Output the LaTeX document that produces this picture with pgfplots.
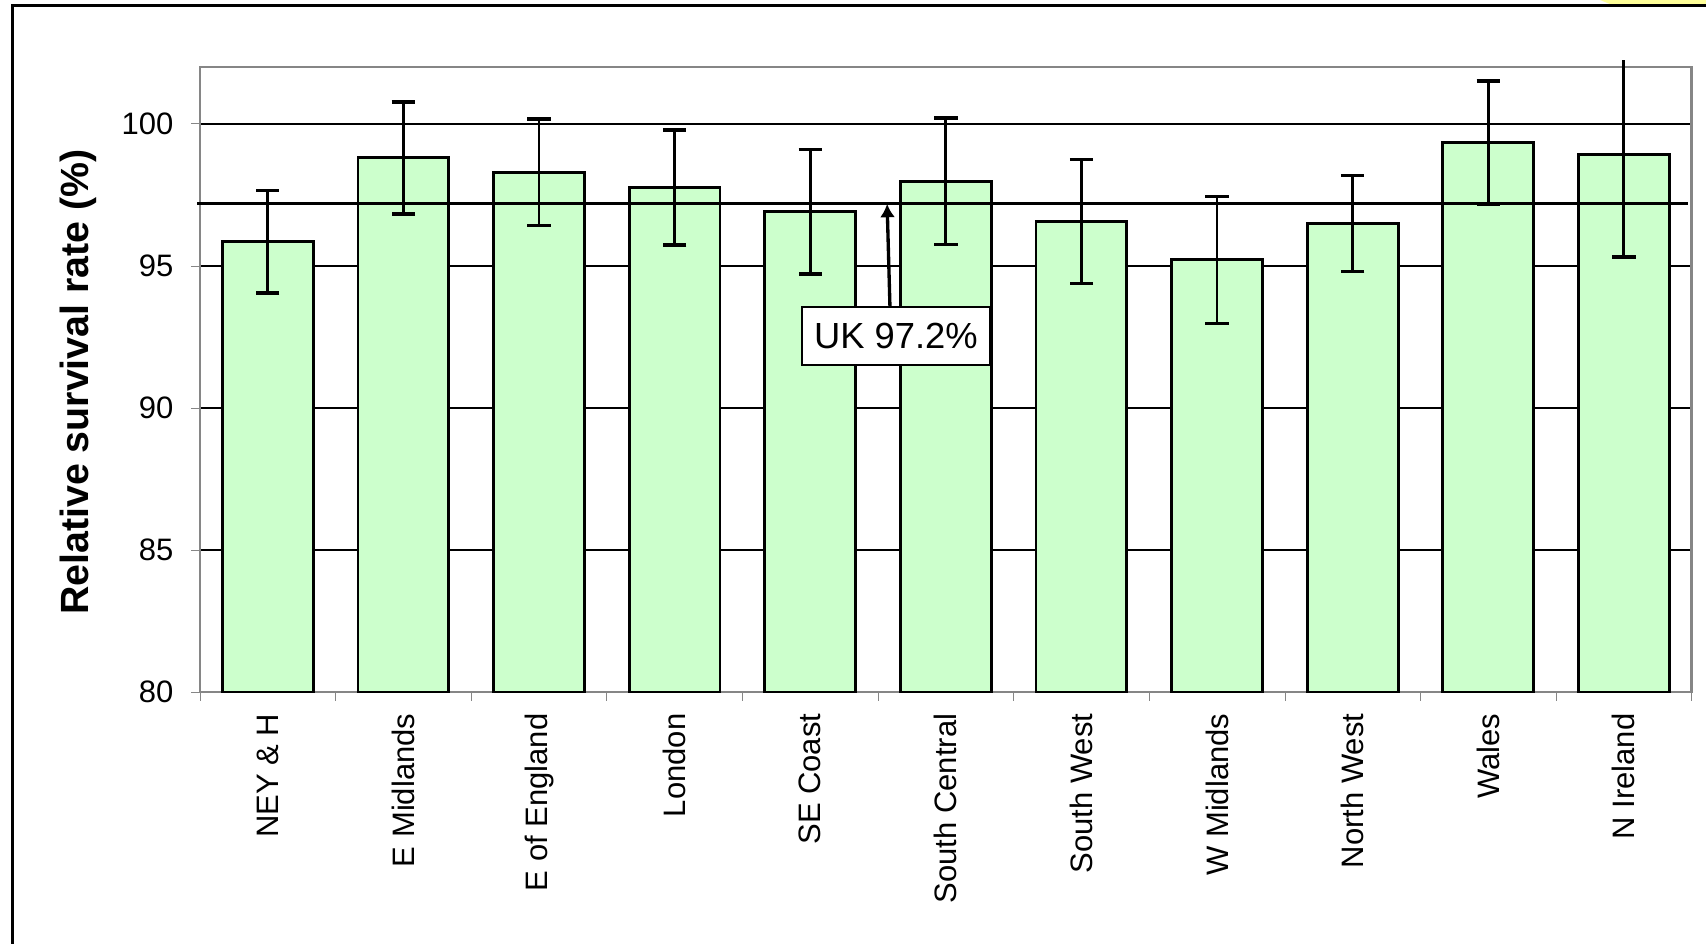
\documentclass[border=0pt]{standalone}
\usepackage{fontspec}
\setmainfont{Liberation Sans}
\usepackage{pgfplots}
\usepackage{pgfplotstable}
\pgfplotsset{compat=1.18}
\usetikzlibrary{arrows.meta}
\definecolor{barfill}{RGB}{204,255,204}
\definecolor{axgray}{RGB}{134,134,134}
\definecolor{paleyellow}{RGB}{255,255,153}

\pgfplotstableread{
x y e
0 95.85 1.81
1 98.80 1.97
2 98.30 1.87
3 97.76 2.02
4 96.90 2.19
5 97.98 2.23
6 96.56 2.18
7 95.21 2.24
8 96.49 1.69
9 99.33 2.18
10 98.92 3.61
}\datatable

\begin{document}
\begin{tikzpicture}
\useasboundingbox (0,0) rectangle (511.8pt,283.2pt);
\fill[paleyellow] (480pt,283.2pt) -- (511.8pt,283.2pt) -- (511.8pt,281.6pt) -- (483.9pt,281.6pt) -- cycle;
\draw[line width=0.9pt, line cap=rect] (3.6pt,-2pt) -- (3.6pt,281.4pt) -- (514pt,281.4pt);
\begin{axis}[
  at={(60pt,75.6pt)}, anchor=south west,
  scale only axis, width=447.5pt, height=187.5pt,
  xmin=-0.5, xmax=10.5, ymin=80, ymax=102,
  clip=false,
  /pgf/number format/assume math mode=true,
  ytick={80,85,90,95,100},
  xtick={0,...,10},
  xticklabels={NEY \& H, E Midlands, E of England, London, SE Coast, South Central, South West, W Midlands, North West, Wales, N Ireland},
  minor xtick={-0.5,0.5,...,10.5},
  xtick pos=lower, ytick pos=lower,
  tick align=outside,
  major tick length=2.7pt, minor tick length=2.6pt,
  major x tick style={draw=none},
  tick style={axgray},
  axis line style={axgray, line width=0.75pt},
  ymajorgrids,
  y grid style={black, line width=0.7pt},
  ticklabel style={font=\fontsize{9.3}{11}\selectfont, inner sep=0pt},
  yticklabel style={anchor=east, xshift=-5.1pt},
  xticklabel style={yshift=-3.6pt, rotate=90, anchor=east},
  ylabel={Relative survival rate (\%)},
  ylabel style={at={(axis description cs:-0.0818,0.496)}, anchor=center, font=\fontsize{11.8}{14}\selectfont\bfseries},
  errstyle/.style={draw=none, no markers, forget plot},
]
\addplot[ybar, bar shift=0pt, bar width=0.67, fill=barfill, draw=black, line width=0.85pt] table[x=x, y=y] {\datatable};
\addplot[black, line width=0.7pt, no markers] coordinates {(-0.52,97.2) (10.47,97.2)};
\addplot[errstyle, skip coords between index={10}{11},
  error bars/.cd, y dir=both, y explicit,
  error bar style={draw=black, line width=0.85pt, solid},
  error mark options={rotate=90, mark size=3.5pt, line width=1pt, draw=black, solid}]
  table[x=x, y=y, y error=e] {\datatable};
\addplot[errstyle, skip coords between index={0}{10},
  error bars/.cd, y dir=minus, y explicit,
  error bar style={draw=black, line width=0.85pt, solid},
  error mark options={rotate=90, mark size=3.5pt, line width=1pt, draw=black, solid}]
  table[x=x, y=y, y error=e] {\datatable};
\addplot[errstyle,
  error bars/.cd, y dir=plus, y explicit, error mark=none,
  error bar style={draw=black, line width=0.85pt, solid}]
  coordinates {(10,98.92) +- (0,3.33)};
\draw[black, line width=1pt, -{Latex[length=4pt, width=4.5pt]}] (axis cs:4.588,93.55) -- (axis cs:4.567,97.18);
\node[draw=black, fill=white, line width=0.6pt, minimum width=56.4pt, minimum height=17.4pt, inner sep=0pt, font=\fontsize{10.9}{13}\selectfont] at (axis cs:4.632,92.53) {UK 97.2\%};
\end{axis}
\end{tikzpicture}
\end{document}
